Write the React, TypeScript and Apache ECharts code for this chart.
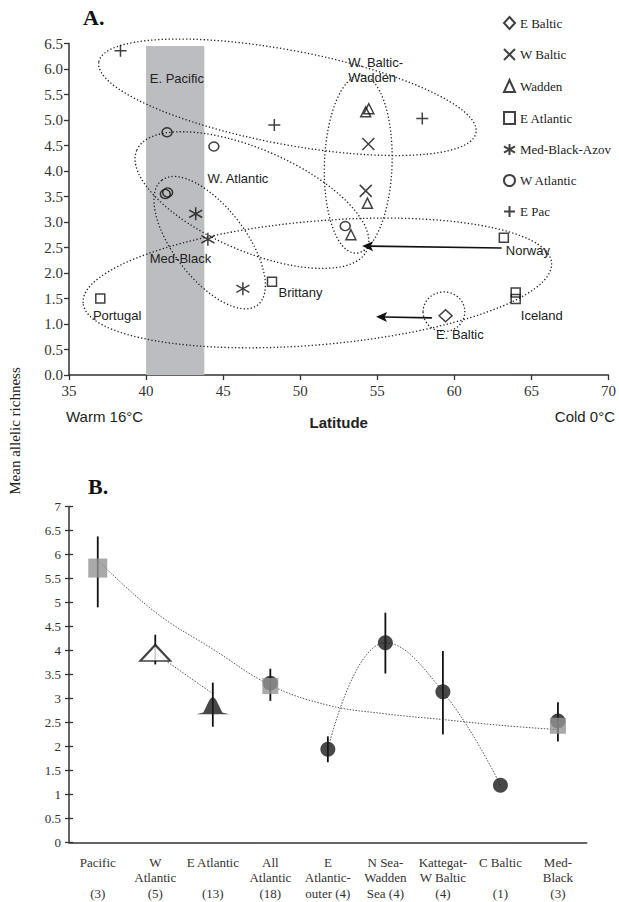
import React, { useEffect, useRef } from 'react';
import * as echarts from 'echarts';

const SERIF = '"Liberation Serif", "Times New Roman", serif';
const SANS = '"Liberation Sans", Arial, sans-serif';
const INK = '#222';

// ---------- Panel A: [latitude, mean allelic richness] ----------
const latTicks = [35, 40, 45, 50, 55, 60, 65, 70];
const richTicksA = [0, 0.5, 1, 1.5, 2, 2.5, 3, 3.5, 4, 4.5, 5, 5.5, 6, 6.5];

const eBaltic = [[59.43, 1.16]];
const wBaltic = [[54.42, 4.53], [54.25, 3.61]];
const wadden = [[54.25, 5.16], [54.45, 5.22], [54.36, 3.37], [53.29, 2.75]];
const eAtlantic = [[37.03, 1.5], [48.17, 1.83], [63.21, 2.69], [63.98, 1.62], [63.98, 1.49]];
const medBlackAzov = [[43.22, 3.16], [44.01, 2.66], [46.28, 1.69]];
const wAtlantic = [[41.36, 4.76], [44.4, 4.48], [41.25, 3.55], [41.4, 3.58], [52.92, 2.92]];
const ePac = [[38.34, 6.36], [48.32, 4.9], [57.92, 5.03]];

// shaded latitude band [latFrom, richFrom, latTo, richTo]
const pacificBand = [[40, 0, 43.78, 6.45]];

// group ellipses: major-axis end A (lat, rich), end B (lat, rich), minor/major ratio
const groupEllipses = [
  [36.94, 6.14, 61.4, 4.75, 0.245],
  [53.96, 5.88, 53.57, 2.39, 0.38],
  [39.4, 4.41, 54.34, 2.45, 0.405],
  [41.02, 3.82, 47.23, 1.37, 0.456],
  [35.91, 1.41, 66.31, 2.2, 0.263],
  [57.97, 1.24, 60.68, 1.24, 0.95],
];

// arrows: from (lat, rich) to (lat, rich)
const arrows = [
  [63.07, 2.49, 54.02, 2.53],
  [58.54, 1.12, 54.92, 1.14],
];

// text annotations (top-left anchor)
const annotationText = ['E. Pacific', 'W. Baltic-\nWadden', 'W. Atlantic', 'Med-Black', 'Brittany', 'Portugal', 'Norway', 'Iceland', 'E. Baltic'];
const annotationPos = [
  [40.24, 5.96], [53.11, 6.27], [43.99, 4.0], [40.24, 2.43], [48.59, 1.76],
  [36.55, 1.31], [63.34, 2.59], [64.31, 1.31], [58.81, 0.94],
];

// ---------- Panel B ----------
const regions = [
  'Pacific\n\n(3)', 'W\nAtlantic\n(5)', 'E Atlantic\n\n(13)', 'All\nAtlantic\n(18)',
  'E\nAtlantic-\nouter (4)', 'N Sea-\nWadden\nSea (4)', 'Kattegat-\nW Baltic\n(4)', 'C Baltic\n\n(1)', 'Med-\nBlack\n(3)',
];
const richTicksB = [0, 0.5, 1, 1.5, 2, 2.5, 3, 3.5, 4, 4.5, 5, 5.5, 6, 6.5, 7];
const pooledMeans = [5.72, null, null, 3.26, null, null, null, null, 2.43];
const regionMeans = [null, null, null, 3.32, 1.94, 4.16, 3.14, 1.19, 2.53];
const wAtlMean = [null, 3.95, null, null, null, null, null, null, null];
const eAtlMean = [null, null, 2.85, null, null, null, null, null, null];
const errLow = [4.9, 3.71, 2.41, 2.95, 1.67, 3.52, 2.25, null, 2.1];
const errHigh = [6.38, 4.33, 3.33, 3.62, 2.21, 4.79, 3.99, null, 2.92];
const trendPooled = [5.88, 4.8, 4.03, 3.28, 2.86, 2.68, 2.56, 2.44, 2.35];
const trendAtlantic = [null, 3.94, 3.1, null, null, null, null, null, null];
const trendEurope = [null, null, null, null, 1.94, 4.16, 3.14, 1.19, null];

const X_PATH = 'path://M0,0L10,10M10,0L0,10';
const PLUS_PATH = 'path://M5,0L5,10M0,5L10,5';
const AST_PATH = 'path://M5,0L5,10M0,2.2L10,7.8M0,7.8L10,2.2';
const BELL_PATH = 'path://M0,17L7,15.5L12.5,6Q16.5,-1 20.5,6L26,15.5L33,17Z';

const openSym = { color: 'transparent', borderColor: '#111', borderWidth: 1.5 };

export default function App() {
  const ref = useRef<HTMLDivElement>(null);
  useEffect(() => {
    if (!ref.current) return;
    const chart = echarts.init(ref.current, null, { renderer: 'svg' });
    const axisLine = { lineStyle: { color: '#333', width: 1.5 } };
    const tickStyle = { color: '#333', width: 1.3 };
    const scatterA = (name: string, data: number[][], symbol: string, size: any) => ({
      name, type: 'scatter', xAxisIndex: 0, yAxisIndex: 0, data, symbol, symbolSize: size,
      itemStyle: openSym, z: 5,
    });
    const option: any = {
      animation: false,
      backgroundColor: '#fff',
      grid: [
        { left: 69, right: 9, top: 43.5, bottom: 527 },
        { left: 69, right: 32.3, top: 506.7, bottom: 59.7 },
      ],
      xAxis: [
        {
          type: 'value', gridIndex: 0, position: 'bottom', min: latTicks[0], max: latTicks[latTicks.length - 1],
          interval: latTicks[1] - latTicks[0], axisLine, splitLine: { show: false },
          axisTick: { length: 5, lineStyle: tickStyle },
          axisLabel: { fontFamily: SERIF, fontSize: 15, color: '#333', margin: 8 },
          name: 'Latitude', nameLocation: 'middle', nameGap: 40,
          nameTextStyle: { fontFamily: SANS, fontSize: 15, fontWeight: 'bold', color: INK },
        },
        {
          type: 'category', gridIndex: 1, position: 'bottom', data: regions, axisLine,
          axisTick: { length: 5, lineStyle: tickStyle },
          axisLabel: { interval: 0, fontFamily: SERIF, fontSize: 13, lineHeight: 15.5, color: '#333', margin: 12 },
        },
        {
          type: 'category', gridIndex: 1, position: 'bottom', data: regions, axisLine: { show: false },
          axisTick: { inside: true, length: 5, lineStyle: tickStyle },
          axisLabel: { show: false },
        },
      ],
      yAxis: [
        {
          type: 'value', gridIndex: 0, position: 'left', min: richTicksA[0], max: richTicksA[richTicksA.length - 1],
          interval: richTicksA[1] - richTicksA[0], axisLine: { show: true, ...axisLine },
          splitLine: { show: false },
          axisTick: { show: true, length: 5, lineStyle: tickStyle },
          axisLabel: { fontFamily: SERIF, fontSize: 15, color: '#333', margin: 6, formatter: (v: number) => v.toFixed(1) },
        },
        {
          type: 'value', gridIndex: 1, position: 'left', min: richTicksB[0], max: richTicksB[richTicksB.length - 1],
          interval: richTicksB[1] - richTicksB[0], axisLine: { show: true, ...axisLine },
          splitLine: { show: false },
          axisTick: { show: true, length: 4, lineStyle: tickStyle },
          axisLabel: { fontFamily: SERIF, fontSize: 13, color: '#333', margin: 8 },
        },
        {
          type: 'value', gridIndex: 1, position: 'left', min: richTicksB[0], max: richTicksB[richTicksB.length - 1],
          interval: richTicksB[1] - richTicksB[0], axisLine: { show: false },
          splitLine: { show: false },
          axisTick: { show: true, inside: true, length: 4, lineStyle: tickStyle },
          axisLabel: { show: false },
        },
      ],
      legend: {
        data: ['E Baltic', 'W Baltic', 'Wadden', 'E Atlantic', 'Med-Black-Azov', 'W Atlantic', 'E Pac'],
        orient: 'vertical', left: 498, top: 11, itemWidth: 11, itemHeight: 12, itemGap: 18,
        selectedMode: false,
        textStyle: { fontFamily: SERIF, fontSize: 13, color: INK },
      },
      graphic: [
        { type: 'text', left: 83, top: 6, style: { text: 'A.', font: `bold 22px ${SERIF}`, fill: '#111' } },
        { type: 'text', left: 88, top: 475, style: { text: 'B.', font: `bold 22px ${SERIF}`, fill: '#111' } },
        { type: 'text', left: 66, top: 409, style: { text: 'Warm 16°C', font: `15px ${SANS}`, fill: INK } },
        { type: 'text', right: 4, top: 409, style: { text: 'Cold 0°C', font: `15px ${SANS}`, fill: INK } },
        {
          type: 'text', x: 15, y: 431, rotation: Math.PI / 2,
          style: { text: 'Mean allelic richness', font: `15px ${SERIF}`, fill: INK, align: 'center', verticalAlign: 'middle' },
        },
      ],
      series: [
        {
          type: 'custom', name: 'band', xAxisIndex: 0, yAxisIndex: 0, data: pacificBand, z: 1, silent: true,
          renderItem: (params: any, api: any) => {
            const p1 = api.coord([api.value(0), api.value(1)]);
            const p2 = api.coord([api.value(2), api.value(3)]);
            return {
              type: 'rect',
              shape: { x: p1[0], y: p2[1], width: p2[0] - p1[0], height: p1[1] - p2[1] },
              style: { fill: '#bcbdc1' },
            };
          },
        },
        {
          type: 'custom', name: 'ellipses', xAxisIndex: 0, yAxisIndex: 0, data: groupEllipses, z: 3, silent: true,
          renderItem: (params: any, api: any) => {
            const p1 = api.coord([api.value(0), api.value(1)]);
            const p2 = api.coord([api.value(2), api.value(3)]);
            const dx = p2[0] - p1[0];
            const dy = p2[1] - p1[1];
            const a = Math.sqrt(dx * dx + dy * dy) / 2;
            const b = a * api.value(4);
            return {
              type: 'ellipse',
              x: (p1[0] + p2[0]) / 2, y: (p1[1] + p2[1]) / 2,
              rotation: -Math.atan2(dy, dx),
              shape: { cx: 0, cy: 0, rx: a, ry: b },
              style: { fill: 'none', stroke: '#222', lineWidth: 1.3, lineDash: [1.3, 2.2] },
            };
          },
        },
        {
          type: 'custom', name: 'arrows', xAxisIndex: 0, yAxisIndex: 0, data: arrows, z: 4, silent: true,
          renderItem: (params: any, api: any) => {
            const p1 = api.coord([api.value(0), api.value(1)]);
            const p2 = api.coord([api.value(2), api.value(3)]);
            const ang = Math.atan2(p2[1] - p1[1], p2[0] - p1[0]);
            const ux = Math.cos(ang), uy = Math.sin(ang);
            const L = 11, W = 5;
            const bx = p2[0] - ux * L, by = p2[1] - uy * L;
            const nx = -uy, ny = ux;
            return {
              type: 'group',
              children: [
                { type: 'line', shape: { x1: p1[0], y1: p1[1], x2: bx + ux * 3, y2: by + uy * 3 }, style: { stroke: '#111', lineWidth: 1.6 } },
                {
                  type: 'polygon',
                  shape: { points: [[p2[0], p2[1]], [bx + nx * W, by + ny * W], [bx + ux * 2.5, by + uy * 2.5], [bx - nx * W, by - ny * W]] },
                  style: { fill: '#111' },
                },
              ],
            };
          },
        },
        {
          type: 'custom', name: 'labels', xAxisIndex: 0, yAxisIndex: 0, data: annotationPos, z: 6, silent: true,
          renderItem: (params: any, api: any) => {
            const p = api.coord([api.value(0), api.value(1)]);
            return {
              type: 'text', x: p[0], y: p[1],
              style: {
                text: annotationText[params.dataIndex], fontFamily: SANS, fontSize: 13, lineHeight: 15,
                fill: INK, align: 'left', verticalAlign: 'top',
              },
            };
          },
        },
        scatterA('E Baltic', eBaltic, 'diamond', [13, 12]),
        scatterA('W Baltic', wBaltic, X_PATH, 12),
        scatterA('Wadden', wadden, 'triangle', [10, 10]),
        scatterA('E Atlantic', eAtlantic, 'rect', 9),
        scatterA('Med-Black-Azov', medBlackAzov, AST_PATH, 13),
        scatterA('W Atlantic', wAtlantic, 'circle', [10, 9]),
        scatterA('E Pac', ePac, PLUS_PATH, 12),

        // ---- Panel B ----
        {
          type: 'line', name: 'trendPooled', xAxisIndex: 1, yAxisIndex: 1, data: trendPooled, smooth: 0.4,
          symbol: 'none', z: 2, silent: true, lineStyle: { color: '#555', width: 1, type: [1.5, 1.5] },
        },
        {
          type: 'line', name: 'trendAtlantic', xAxisIndex: 1, yAxisIndex: 1, data: trendAtlantic,
          symbol: 'none', z: 2, silent: true, lineStyle: { color: '#555', width: 1, type: [1.5, 1.5] },
        },
        {
          type: 'line', name: 'trendEurope', xAxisIndex: 1, yAxisIndex: 1, data: trendEurope, smooth: 0.45,
          symbol: 'none', z: 2, silent: true, lineStyle: { color: '#555', width: 1, type: [1.5, 1.5] },
        },
        {
          type: 'custom', name: 'errorBars', xAxisIndex: 1, yAxisIndex: 1, z: 3, silent: true,
          data: errLow.map((lo, i) => (lo == null ? null : [i, lo, errHigh[i]])).filter((d) => d != null),
          renderItem: (params: any, api: any) => {
            const p1 = api.coord([api.value(0), api.value(1)]);
            const p2 = api.coord([api.value(0), api.value(2)]);
            return { type: 'line', shape: { x1: p1[0], y1: p1[1], x2: p2[0], y2: p2[1] }, style: { stroke: '#111', lineWidth: 1.8 } };
          },
        },
        {
          type: 'scatter', name: 'regionMeans', xAxisIndex: 1, yAxisIndex: 1, data: regionMeans,
          symbol: 'circle', symbolSize: 15, itemStyle: { color: '#1a1a1a' }, z: 4,
        },
        {
          type: 'scatter', name: 'pooledMeans', xAxisIndex: 1, yAxisIndex: 1, data: pooledMeans,
          symbol: 'rect', symbolSize: (v: any, p: any) => (p.dataIndex === 0 ? 19 : 16),
          itemStyle: { color: '#949494' }, z: 5,
        },
        {
          type: 'scatter', name: 'wAtlMean', xAxisIndex: 1, yAxisIndex: 1, data: wAtlMean,
          symbol: 'triangle', symbolSize: [30, 16], itemStyle: { color: '#fff', borderColor: '#111', borderWidth: 2 }, z: 5,
        },
        {
          type: 'scatter', name: 'eAtlMean', xAxisIndex: 1, yAxisIndex: 1, data: eAtlMean,
          symbol: BELL_PATH, symbolSize: [33, 17], itemStyle: { color: '#1a1a1a' }, z: 5,
        },
      ],
    };
    chart.setOption(option);
    return () => chart.dispose();
  }, []);
  return <div ref={ref} style={{ position: 'fixed', left: 0, top: 0, width: 619, height: 902, background: '#fff' }} />;
}
